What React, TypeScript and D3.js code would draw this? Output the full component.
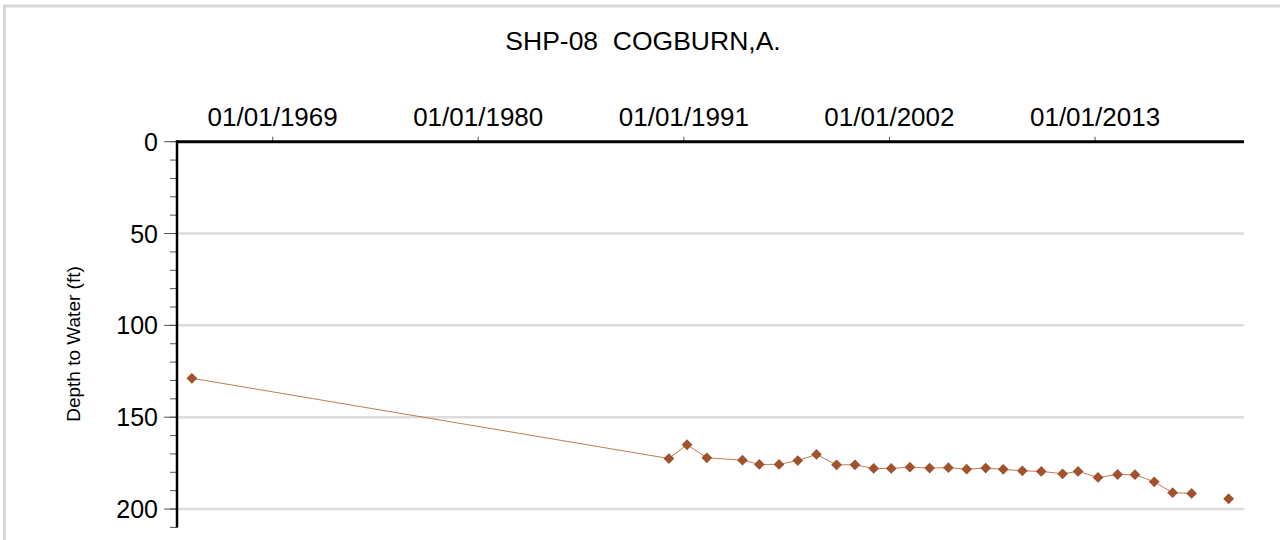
import React from 'react';
import * as d3 from 'd3';

// well SHP-08 readings: measurement date and depth to water (ft)
const dates = [
  '1964-09-05', '1990-03-15', '1991-03-05', '1992-03-25', '1994-02-20',
  '1995-01-15', '1996-02-05', '1997-02-05', '1998-02-05', '1999-03-05',
  '2000-02-28', '2001-02-28', '2002-02-05', '2003-02-05', '2004-02-25',
  '2005-02-25', '2006-02-18', '2007-02-25', '2008-02-03', '2009-02-10',
  '2010-02-15', '2011-04-08', '2012-02-05', '2013-02-28', '2014-03-18',
  '2015-02-20', '2016-03-03', '2017-02-25', '2018-03-03', '2019-03-01',
  '2020-02-25',
];
const depths: (number | null)[] = [
  128.8, 172.5, 165.0, 172.1, 173.4,
  175.7, 175.7, 173.6, 170.3, 175.9,
  175.9, 177.9, 177.9, 177.2, 177.7,
  177.5, 178.3, 177.7, 178.4, 179.2,
  179.5, 180.8, 179.5, 182.8, 181.2,
  181.3, 185.2, 191.1, 191.5, null,
  194.4,
];

const xTickDates = ['1969-01-01', '1980-01-01', '1991-01-01', '2002-01-01', '2013-01-01'];
const yTicks = [0, 50, 100, 150, 200];
const yMinorTicks = d3.range(0, 211, 10);

const title = 'SHP-08\u00a0\u00a0COGBURN,A.';
const yLabel = 'Depth to Water (ft)';

const W = 1280;
const H = 540;
const font = '"Liberation Sans", Arial, sans-serif';

export default function App() {
  const parse = d3.utcParse('%Y-%m-%d');
  const fmt = d3.utcFormat('%m/%d/%Y');

  const data = dates.map((d, i) => ({ date: parse(d) as Date, v: depths[i] }));

  const x = d3.scaleUtc()
    .domain([parse('1963-11-19') as Date, parse('2020-12-21') as Date])
    .range([177, 1244]);
  const y = d3.scaleLinear().domain([0, 210]).range([141.7, 527.4]);

  const line = d3.line<{ date: Date; v: number | null }>()
    .defined(d => d.v != null)
    .x(d => x(d.date))
    .y(d => y(d.v as number));

  const diamond = d3.symbol().type(d3.symbolDiamond2).size(74)();
  const pts = data.filter(d => d.v != null);

  const [x0, x1] = x.range();
  const [y0, y1] = y.range();

  return (
    <svg width={W} height={H} style={{ position: 'absolute', left: 0, top: 0, background: '#fff' }}
      fontFamily={font}>
      <rect x={4.5} y={6} width={W + 10} height={H + 10} fill="none" stroke="#d8d8d8" strokeWidth={3} />

      <text x={643} y={50} textAnchor="middle" fontSize={26.5} fill="#000">{title}</text>

      {/* horizontal gridlines */}
      {yTicks.filter(t => t > 0).map(t => (
        <line key={'g' + t} x1={x0} x2={x1} y1={y(t)} y2={y(t)} stroke="#dcdcdc" strokeWidth={2.5} />
      ))}

      {/* y axis minor + major ticks */}
      {yMinorTicks.map(t => (
        <line key={'m' + t} x1={x0 - 7} x2={x0} y1={y(t)} y2={y(t)} stroke="#555" strokeWidth={1} />
      ))}
      {yTicks.map(t => (
        <g key={'y' + t}>
          <line x1={x0 - 13} x2={x0} y1={y(t)} y2={y(t)} stroke="#555" strokeWidth={1} />
          <text x={158} y={y(t)} dy="0.36em" textAnchor="end" fontSize={25} fill="#000">{t}</text>
        </g>
      ))}

      {/* top date axis */}
      {xTickDates.map(s => {
        const d = parse(s) as Date;
        return (
          <g key={s}>
            <line x1={x(d)} x2={x(d)} y1={y0 - 5} y2={y0} stroke="#555" strokeWidth={1} />
            <text x={x(d)} y={126} textAnchor="middle" fontSize={26} fill="#000">{fmt(d)}</text>
          </g>
        );
      })}

      <line x1={x0} x2={x1} y1={y0} y2={y0} stroke="#000" strokeWidth={3} />
      <line x1={x0} x2={x0} y1={y0 - 1.5} y2={y1} stroke="#000" strokeWidth={2.5} />

      <text transform={`translate(80,344) rotate(-90)`} textAnchor="middle" fontSize={19} fill="#000">{yLabel}</text>

      <path d={line(data) || ''} fill="none" stroke="#bf7b57" strokeWidth={1} />
      {pts.map((d, i) => (
        <path key={i} d={diamond || ''} transform={`translate(${x(d.date)},${y(d.v as number)})`} fill="#a0522d" />
      ))}
    </svg>
  );
}
